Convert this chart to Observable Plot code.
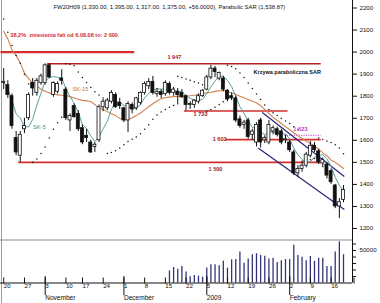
<!DOCTYPE html>
<html><head><meta charset="utf-8">
<script src="https://cdn.jsdelivr.net/npm/d3@7"></script>
<script src="https://cdn.jsdelivr.net/npm/@observablehq/plot@0.6"></script>
<style>
body{margin:0;background:#fff;}
#chart{position:relative;width:380px;height:303px;overflow:hidden;background:#fff;}
#chart svg{position:absolute;left:0;}
#lborder{position:absolute;left:1px;top:0;width:1px;height:303px;background:#9a9a9a;}
</style></head><body><div id="chart"><div id="lborder"></div></div>
<script>
// ---------- data ----------
const dates = [
"2008-10-20","2008-10-21","2008-10-22","2008-10-23","2008-10-24","2008-10-27","2008-10-28","2008-10-29","2008-10-30","2008-10-31",
"2008-11-03","2008-11-04","2008-11-05","2008-11-06","2008-11-07","2008-11-10","2008-11-12","2008-11-13","2008-11-14","2008-11-17",
"2008-11-18","2008-11-19","2008-11-20","2008-11-21","2008-11-24","2008-11-25","2008-11-26","2008-11-27","2008-11-28",
"2008-12-01","2008-12-02","2008-12-03","2008-12-04","2008-12-05","2008-12-08","2008-12-09","2008-12-10","2008-12-11","2008-12-12",
"2008-12-15","2008-12-16","2008-12-17","2008-12-18","2008-12-19","2008-12-22","2008-12-23","2008-12-29","2008-12-30",
"2009-01-02","2009-01-05","2009-01-06","2009-01-07","2009-01-08","2009-01-09","2009-01-12","2009-01-13","2009-01-14","2009-01-15",
"2009-01-16","2009-01-19","2009-01-20","2009-01-21","2009-01-22","2009-01-23","2009-01-26","2009-01-27","2009-01-28","2009-01-29","2009-01-30",
"2009-02-02","2009-02-03","2009-02-04","2009-02-05","2009-02-06","2009-02-09","2009-02-10","2009-02-11","2009-02-12","2009-02-13",
"2009-02-16","2009-02-17","2009-02-18","2009-02-19"];
const open  = [1860,1850,1800,1610,1530,1650,1700,1860,1815,1860,1860,1940,1805,1820,1880,1830,1690,1755,1720,1655,1620,1590,1570,1600,1750,1745,1775,1805,1770,1745,1690,1760,1745,1770,1815,1845,1865,1810,1820,1810,1855,1815,1820,1815,1800,1760,1760,1775,1800,1830,1885,1925,1880,1880,1825,1800,1790,1695,1670,1690,1625,1590,1690,1600,1590,1640,1650,1640,1600,1590,1545,1450,1470,1485,1530,1575,1550,1495,1490,1460,1395,1300,1330];
const high  = [1925,1870,1810,1640,1640,1700,1815,1880,1880,1900,1947,1947,1865,1865,1920,1840,1720,1765,1735,1670,1650,1600,1590,1760,1785,1790,1825,1815,1790,1750,1775,1770,1795,1820,1865,1880,1890,1835,1830,1870,1865,1840,1835,1830,1805,1775,1785,1810,1830,1895,1940,1935,1910,1890,1830,1815,1800,1710,1690,1700,1650,1680,1700,1620,1690,1665,1660,1650,1623,1600,1555,1485,1500,1545,1595,1590,1560,1520,1500,1470,1400,1335,1395];
const low   = [1830,1790,1650,1530,1500,1630,1690,1800,1800,1850,1850,1880,1795,1810,1850,1690,1640,1700,1640,1580,1590,1540,1545,1590,1730,1735,1765,1745,1740,1680,1635,1720,1735,1760,1805,1830,1805,1795,1790,1800,1805,1800,1760,1790,1733,1740,1745,1765,1795,1825,1875,1885,1870,1820,1775,1780,1680,1655,1650,1605,1600,1570,1565,1585,1580,1625,1615,1580,1585,1545,1440,1430,1455,1475,1520,1545,1490,1475,1425,1400,1290,1245,1317];
const close = [1865,1805,1665,1545,1625,1665,1805,1835,1870,1890,1940,1885,1860,1855,1870,1700,1710,1705,1650,1590,1610,1545,1580,1750,1775,1780,1815,1750,1755,1690,1765,1740,1790,1815,1855,1865,1815,1820,1805,1860,1815,1830,1805,1795,1760,1765,1780,1800,1825,1885,1925,1910,1905,1830,1785,1790,1690,1665,1680,1615,1640,1670,1590,1610,1670,1655,1625,1590,1605,1555,1450,1470,1485,1535,1575,1555,1500,1510,1440,1410,1300,1319,1375];
const volume = [0,0,0,0,0,0,0,0,0,0,0,0,0,0,0,0,0,0,0,0,0,0,0,0,0,0,0,0,0,0,0,0,0,0,0,0,0,0,0,0,
18600,23800,21300,25400,17000,9500,11700,10600,9000,22900,28100,28100,26500,33300,22900,35600,36000,47600,30200,37100,
43500,45100,42400,41300,37100,38100,31700,34400,36000,36000,58200,42400,39700,34400,40800,33300,38100,38100,25400,25400,
47600,63500,43500];
const sar = [2150,2090,2030,1985,1950,1900,1855,1500,1515,1540,1570,1610,1650,1680,1705,1947,1945,1938,1910,1885,1862,1840,1820,1805,1792,
1540,1545,1553,1565,1580,1595,1605,1615,1630,1650,1670,1695,1715,1728,1740,1750,1758,1890,1885,1878,1872,1866,1860,1852,
1733,1740,1750,1762,1775,1940,1935,1925,1905,1885,1860,1835,1810,1785,1760,1740,1725,1712,1700,1688,1676,1662,1648,
1505,1508,1512,1518,1610,1604,1597,1590,1580,1565,1539];
const sk15 = [2095,2060,2010,1985,1950,1905,1880,1860,1845,1832,1822,1815,1810,1806,1804,1803,1798,1792,1786,1781,1779,1776,1762,1748,1740,
1730,1720,1712,1700,1692,1694,1702,1712,1724,1738,1752,1766,1778,1789,1793,1796,1798,1799,1800,1801,1802,1804,1808,1812,1815,1818,1822,
1825,1826,1822,1815,1808,1800,1793,1785,1777,1770,1757,1740,1722,1704,1690,1676,1662,1648,1634,1620,1608,1597,1585,1575,1560,1543,
1530,1510,1500,1487,1472];
const priceTicks = [1200,1300,1400,1500,1600,1700,1800,1900,2000,2100,2200];
const volumeTicks = [10000,20000,30000,40000,50000,60000];
const volumeTickLabels = ["","","","","50000",""];
const weekTickDates = ["2008-10-20","2008-10-27","2008-11-03","2008-11-10","2008-11-17","2008-11-24","2008-12-01","2008-12-08","2008-12-15","2008-12-22","2009-01-05","2009-01-12","2009-01-19","2009-01-26","2009-02-02","2009-02-09","2009-02-16"];
const weekTickLabels = ["20","27","3","10","17","24","1","8","15","22","5","12","19","26","2","9","16"];
const monthTickDates = ["2008-11-03","2008-12-01","2009-01-05","2009-02-02"];
const monthTickLabels = ["November","December","2009","February"];
const levelValues = [2000,1947,1733,1603,1500];
const levelFrom = ["2008-10-20","2008-11-04","2008-12-22","2009-01-12","2008-10-24"];
const levelTo   = ["2008-12-03","2009-02-11","2009-01-30","2009-02-11","2009-02-11"];
const levelLabels = ["1 947","1 733","1 603","1 500"];
const dotted1623 = {value:1623, from:"2009-01-30", to:"2009-02-11", label:"1 623"};
const channelFrom = ["2009-01-22","2009-01-21"];
const channelFromVal = [1726,1565];
const channelTo = ["2009-02-19","2009-02-19"];
const channelToVal = [1436,1286];
const titleText = "FW20H09 (1,330.00, 1,395.00, 1,317.00, 1,375.00, +56.0000), Parabolic SAR (1,538.87)";
const retraceText = "38,2%  zniesienia fali od 6.08.08 to: 2 000";
const sarText = "Krzywa paraboliczna SAR";

// ---------- helpers ----------
function hasFont(name){
  const c = document.createElement("canvas").getContext("2d");
  const s = "abcdefghijklmnopqrstuvwxyzABCDEFGH0123456789";
  c.font = "20px monospace"; const a = c.measureText(s).width;
  c.font = `20px '${name}', monospace`; const b = c.measureText(s).width;
  return Math.abs(a-b) > 0.5;
}
const NARROW = hasFont("Liberation Sans Narrow");
const FONT = NARROW ? "'Liberation Sans Narrow', 'Liberation Sans', Arial, sans-serif" : "'Liberation Sans', Arial, sans-serif";
const K = NARROW ? 1 : 0.82;
const fs = s => s*K;

const idx = d => dates.indexOf(d);
const rows = dates.map((d,i)=>({i, date:d, open:open[i], high:high[i], low:low[i], close:close[i], volume:volume[i], sar:sar[i], sk15:sk15[i]}));
const xDomain = [-0.772, 84.17];
const tickShift = -0.35;
const weekPos = weekTickDates.map(d=>idx(d)+tickShift);
const weekMap = new Map(weekPos.map((p,j)=>[p, weekTickLabels[j]]));
weekPos.push(xDomain[1]); weekMap.set(xDomain[1], "");
const monthPos = monthTickDates.map(d=>idx(d)+tickShift);
const monthMap = new Map(monthPos.map((p,j)=>[p, monthTickLabels[j]]));
const volMap = new Map(volumeTicks.map((v,j)=>[v, volumeTickLabels[j]]));
const levels = levelValues.map((v,j)=>({v, x1: j===0 ? xDomain[0] : idx(levelFrom[j]) - 0.5, x2: idx(levelTo[j]) + 0.5}));
const channels = channelFrom.map((d,j)=>({x1: idx(d)+0.4, y1: channelFromVal[j], x2: idx(channelTo[j])+0.2, y2: channelToVal[j]}));

const RED = "#d42e2e", DRED = "#a8161c";

const topPlot = Plot.plot({
  width: 380, height: 239,
  marginLeft: 0, marginRight: 28, marginTop: 7.5, marginBottom: 11,
  x: {domain: xDomain, axis: null},
  y: {domain: [1200, 2200], axis: null},
  style: {fontFamily: FONT, background: "transparent", overflow: "visible", color: "#111"},
  marks: [
    Plot.ruleX([xDomain[1]], {y1: 2240, y2: 1140, stroke: "#111"}),
    Plot.axisY(priceTicks, {anchor: "right", tickSize: 4, tickPadding: 3, fontSize: fs(7.5), label: null, tickFormat: d => String(d)}),
    // level lines
    Plot.link(levels, {x1: "x1", x2: "x2", y1: "v", y2: "v", stroke: (d,j)=> j===1 ? "#b81e26" : RED, strokeWidth: (d,j)=> j===0 ? 2.2 : 1.6}),
    Plot.link([dotted1623], {x1: d=>idx(d.from)-0.3, x2: d=>idx(d.to)+0.5, y1:"value", y2:"value", stroke:"#c03cc8", strokeWidth:1.2, strokeDasharray:"1.2,1.2"}),
    // channel
    Plot.link(channels, {x1:"x1", y1:"y1", x2:"x2", y2:"y2", stroke:"#26267e", strokeWidth:1.2}),
    // moving averages
    Plot.line(rows, {x:"i", y:"sk15", stroke:"#d2804e", strokeWidth:1.1}),
    Plot.lineY(rows, Plot.windowY({k:5, anchor:"end", reduce:"mean"}, {x:"i", y:"close", stroke:"#5a9e9e", strokeWidth:1})),
    // SAR
    Plot.dot(rows, {x:"i", y:"sar", r:0.75, fill:"#111", stroke:null}),
    // candles
    Plot.ruleX(rows, {x:"i", y1:"low", y2:"high", stroke:"#111", strokeWidth:1}),
    Plot.rect(rows, {x1: d=>d.i-0.36, x2: d=>d.i+0.36, y1:"open", y2:"close", fill: d=> d.close>=d.open ? "#fff" : "#111", stroke:"#111", strokeWidth:0.8}),
    // texts
    Plot.text([titleText], {frameAnchor:"top-left", dx:53, dy:-0.5, lineAnchor:"middle", textAnchor:"start", fontSize: fs(7.2), fill:"#111"}),
    Plot.text([retraceText], {x: 1.6, y: 2075, textAnchor:"start", fill: RED, fontWeight:"bold", fontSize: fs(6.8)}),
    Plot.text([levelLabels[0]], {x: 41.2, y: 1978, fill: DRED, fontWeight:"bold", fontSize: fs(6.8)}),
    Plot.text([levelLabels[1]], {x: 47.5, y: 1718, fill: DRED, fontWeight:"bold", fontSize: fs(6.8)}),
    Plot.text([levelLabels[2]], {x: 52.1, y: 1605, fill: DRED, fontWeight:"bold", fontSize: fs(6.8)}),
    Plot.text([levelLabels[3]], {x: 51.1, y: 1471, fill: DRED, fontWeight:"bold", fontSize: fs(6.8)}),
    Plot.text([dotted1623.label], {x: 71.6, y: 1652, fill:"#c03cc8", fontWeight:"bold", fontSize: fs(7)}),
    Plot.text(["SK-15"], {x: 18.5, y: 1830, fill:"#c8703e", fontSize: fs(7)}),
    Plot.text(["SK-5"], {x: 8.6, y: 1658, fill:"#3f8f8f", fontSize: fs(7)}),
    Plot.text([sarText], {x: 60.3, y: 1907, textAnchor:"start", fill:"#111", fontWeight:"bold", fontSize: fs(6.7)})
  ]
});

const bottomPlot = Plot.plot({
  width: 380, height: 64,
  marginLeft: 0, marginRight: 28, marginTop: 0.5, marginBottom: 20.5,
  x: {domain: xDomain, axis: null},
  y: {domain: [0, 66150], axis: null},
  style: {fontFamily: FONT, background: "transparent", overflow: "visible", color: "#111"},
  marks: [
    Plot.ruleY([66150], {stroke: "#8a8a8a"}),
    Plot.ruleX(rows.filter(d=>d.volume>0), {x:"i", y:"volume", stroke:"#33337a", strokeWidth:1.3}),
    Plot.ruleY([0], {stroke:"#111"}),
    Plot.ruleX([xDomain[1]], {stroke:"#111"}),
    Plot.axisY(volumeTicks, {anchor:"right", tickSize:3, tickPadding:4, fontSize: fs(7.5), label:null, tickFormat: d=>volMap.get(d)}),
    Plot.axisX(weekPos, {anchor:"bottom", tickSize:6, tickPadding:0, textAnchor:"start", dx:1.5, dy:-5, fontSize: fs(7.5), label:null, tickFormat: d=>weekMap.get(d)}),
    Plot.axisX(monthPos, {anchor:"bottom", tickSize:19, tickPadding:0, textAnchor:"start", dx:1.5, dy:-6.5, fontSize: fs(8), label:null, tickFormat: d=>monthMap.get(d)})
  ]
});

const chart = document.getElementById("chart");
topPlot.style.top = "0px";
bottomPlot.style.top = "239px";
chart.appendChild(topPlot);
chart.appendChild(bottomPlot);
</script>
</body></html>
